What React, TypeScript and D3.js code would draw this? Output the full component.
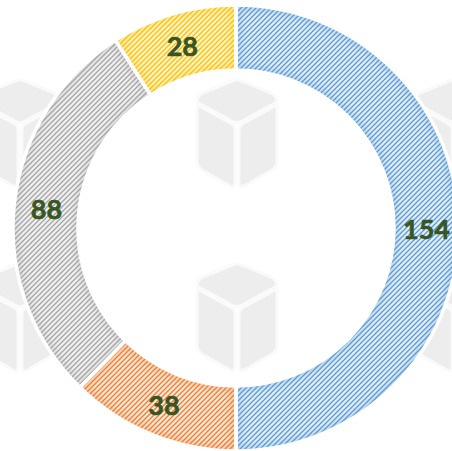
import React from 'react';
import * as d3 from 'd3';

const WIDTH = 452;
const HEIGHT = 451;

const categories = ['A', 'B', 'C', 'D'];
const values = [154, 38, 88, 28];
const stripeColors = ['#5b9bd5', '#ed7d31', '#a5a5a5', '#ffc000'];
const backColors = ['#e4eef9', '#fde8d9', '#f0f0f0', '#fff4d0'];

// watermark cube centres
const cubeX = [20, 237, 454];
const cubeY = [132, 316];

const Cube: React.FC<{ x: number; y: number }> = ({ x, y }) => (
  <g transform={`translate(${x},${y})`} fill="#ededed" stroke="#fafafa" strokeWidth={3} strokeLinejoin="round">
    {/* top face */}
    <path d="M-40,-30 Q-40,-36 -34,-39 L-5,-51 Q0,-53 5,-51 L34,-39 Q40,-36 40,-30 L5,-11 Q0,-8 -5,-11 Z" />
    {/* left face */}
    <path d="M-40,-27 L-5,-8 Q-2,-6 -2,-2 L-2,52 Q-3,56 -7,54 L-35,38 Q-40,35 -40,29 Z" />
    {/* right face */}
    <path d="M40,-27 L5,-8 Q2,-6 2,-2 L2,52 Q3,56 7,54 L35,38 Q40,35 40,29 Z" />
  </g>
);

const App: React.FC = () => {
  const cx = 236;
  const cy = 228;
  const outerR = 223;
  const innerR = 158;

  const pie = d3
    .pie<number>()
    .sort(null)
    .value((d) => d);
  const arcs = pie(values);

  const arc = d3
    .arc<d3.PieArcDatum<number>>()
    .innerRadius(innerR)
    .outerRadius(outerR);
  const labelArc = d3
    .arc<d3.PieArcDatum<number>>()
    .innerRadius((innerR + outerR) / 2)
    .outerRadius((innerR + outerR) / 2);

  return (
    <svg
      width={WIDTH}
      height={HEIGHT}
      style={{ position: 'fixed', left: 0, top: 0, display: 'block', background: '#fff' }}
    >
      <defs>
        {categories.map((c, i) => (
          <pattern key={c} id={`hatch-${i}`} width={5} height={5} patternUnits="userSpaceOnUse">
            <rect width={5} height={5} fill={backColors[i]} />
            <path d="M-1,1 L1,-1 M0,5 L5,0 M4,6 L6,4" stroke={stripeColors[i]} strokeWidth={1.3} />
          </pattern>
        ))}
        {arcs.map((a, i) => (
          <clipPath key={i} id={`clip-${i}`}>
            <path d={arc(a) || ''} />
          </clipPath>
        ))}
        <filter id="glow" x="-20%" y="-20%" width="140%" height="140%">
          <feGaussianBlur stdDeviation={3} />
        </filter>
      </defs>

      {cubeY.map((y) => cubeX.map((x) => <Cube key={`${x}-${y}`} x={x} y={y} />))}

      <g transform={`translate(${cx},${cy})`}>
        {arcs.map((a, i) => (
          <g key={categories[i]}>
            <path d={arc(a) || ''} fill={`url(#hatch-${i})`} />
            <g clipPath={`url(#clip-${i})`}>
              <path
                d={arc(a) || ''}
                fill="none"
                stroke={stripeColors[i]}
                strokeOpacity={0.35}
                strokeWidth={9}
                filter="url(#glow)"
              />
            </g>
          </g>
        ))}
        {arcs.map((a, i) => (
          <path key={`sep-${i}`} d={arc(a) || ''} fill="none" stroke="#ffffff" strokeWidth={3.5} />
        ))}
        {arcs.map((a, i) => {
          const [lx, ly] = labelArc.centroid(a);
          return (
            <text
              key={`label-${i}`}
              x={lx}
              y={ly}
              textAnchor="middle"
              dominantBaseline="central"
              fontFamily="Lato, 'Open Sans', sans-serif"
              fontWeight={700}
              fontSize={27}
              fill="#375623"
              stroke="#375623"
              strokeWidth={0.6}
            >
              {values[i]}
            </text>
          );
        })}
      </g>
    </svg>
  );
};

export default App;
